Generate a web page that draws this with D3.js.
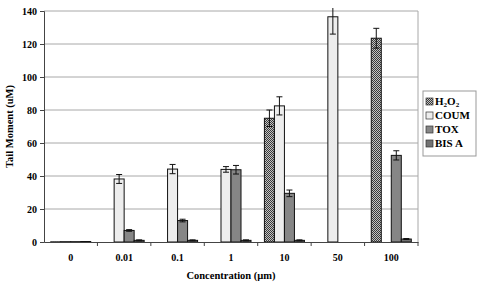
<!DOCTYPE html>
<html>
<head>
<meta charset="utf-8">
<script src="https://cdn.jsdelivr.net/npm/d3@7"></script>
<style>
  body { margin: 0; background: #fff; }
  svg text { font-family: "Liberation Serif", "Times New Roman", serif; font-weight: bold; fill: #000; }
</style>
</head>
<body>
<svg id="chart" width="477" height="286"></svg>
<script>
const categories = ["0", "0.01", "0.1", "1", "10", "50", "100"];
const seriesNames = ["H2O2", "COUM", "TOX", "BIS A"];
const h2o2 = [0.1, null, null, null, 75, null, 123.5];
const h2o2Err = [0, null, null, null, 5, null, 6];
const coum = [0.2, 38.2, 44.2, 44, 82.5, 136.5, null];
const coumErr = [0, 2.7, 2.8, 1.7, 5.5, 10.5, null];
const tox = [0.2, 7, 13, 43.8, 29.5, null, 52.5];
const toxErr = [0, 0.5, 0.8, 2.6, 2, null, 2.8];
const bisA = [0.3, 1, 1, 1, 1, null, 1.8];
const bisAErr = [0, 0.3, 0.3, 0.3, 0.3, null, 0.3];
const yTicks = [0, 20, 40, 60, 80, 100, 120, 140];

const values = [h2o2, coum, tox, bisA];
const errors = [h2o2Err, coumErr, toxErr, bisAErr];
const fills = ["url(#hatch)", "#ededed", "#868686", "#727272"];

const svg = d3.select("#chart");
const plotLeft = 44, plotRight = 418, plotTop = 11, plotBottom = 242;

const defs = svg.append("defs");
const pat = defs.append("pattern")
  .attr("id", "hatch")
  .attr("width", 2).attr("height", 2)
  .attr("patternUnits", "userSpaceOnUse");
pat.append("rect").attr("width", 2).attr("height", 2).attr("fill", "#c4c4c4");
pat.append("rect").attr("width", 1).attr("height", 1).attr("fill", "#3a3a3a");
pat.append("rect").attr("x", 1).attr("y", 1).attr("width", 1).attr("height", 1).attr("fill", "#3a3a3a");

defs.append("clipPath").attr("id", "clip")
  .append("rect").attr("x", plotLeft).attr("y", plotTop - 3)
  .attr("width", plotRight - plotLeft).attr("height", plotBottom - plotTop + 3);

const x = d3.scaleBand().domain(categories).range([plotLeft, plotRight]);
const x1 = d3.scaleBand().domain(seriesNames).range([0, x.bandwidth()]).paddingOuter(0.67);
const y = d3.scaleLinear().domain([0, 140]).range([plotBottom, plotTop]);

// grid lines
svg.append("g").selectAll("line")
  .data(yTicks.slice(1))
  .join("line")
  .attr("x1", plotLeft).attr("x2", plotRight)
  .attr("y1", d => y(d)).attr("y2", d => y(d))
  .attr("stroke", "#a8a8a8").attr("stroke-width", 1);

svg.append("line")
  .attr("x1", plotRight).attr("x2", plotRight)
  .attr("y1", plotTop).attr("y2", plotBottom)
  .attr("stroke", "#a8a8a8");

// bars
const rows = [];
seriesNames.forEach((s, i) => {
  categories.forEach((c, j) => {
    if (values[i][j] != null) rows.push({ s, i, c, v: values[i][j], e: errors[i][j] });
  });
});

svg.append("g").selectAll("rect")
  .data(rows)
  .join("rect")
  .attr("x", d => x(d.c) + x1(d.s))
  .attr("y", d => y(d.v))
  .attr("width", x1.bandwidth())
  .attr("height", d => y(0) - y(d.v))
  .attr("fill", d => fills[d.i])
  .attr("stroke", "#111")
  .attr("stroke-width", 1);

// error bars
const eg = svg.append("g").attr("clip-path", "url(#clip)")
  .attr("stroke", "#111").attr("stroke-width", 1);
rows.filter(d => d.e > 0).forEach(d => {
  const cx = x(d.c) + x1(d.s) + x1.bandwidth() / 2;
  const y0 = y(d.v - d.e), y1 = y(d.v + d.e);
  eg.append("line").attr("x1", cx).attr("x2", cx).attr("y1", y0).attr("y2", y1);
  eg.append("line").attr("x1", cx - 3).attr("x2", cx + 3).attr("y1", y0).attr("y2", y0);
  eg.append("line").attr("x1", cx - 3).attr("x2", cx + 3).attr("y1", y1).attr("y2", y1);
});

// y axis
const yAxis = svg.append("g")
  .attr("transform", `translate(${plotLeft},0)`)
  .call(d3.axisLeft(y).tickValues(yTicks).tickSize(4).tickPadding(3));
yAxis.select(".domain").attr("stroke", "#444");
yAxis.selectAll(".tick line").attr("stroke", "#444");
yAxis.selectAll("text").style("font-size", "10px");

// x axis
const xAxis = svg.append("g")
  .attr("transform", `translate(0,${plotBottom})`)
  .call(d3.axisBottom(x).tickSize(0).tickPadding(12));
xAxis.select(".domain").attr("stroke", "#444");
xAxis.selectAll("text").style("font-size", "10px");
svg.append("g").selectAll("line")
  .data(categories.slice(1).concat(["end"]))
  .join("line")
  .attr("x1", d => d === "end" ? plotRight : x(d))
  .attr("x2", d => d === "end" ? plotRight : x(d))
  .attr("y1", plotBottom).attr("y2", plotBottom + 4)
  .attr("stroke", "#444");

// axis titles
svg.append("text")
  .attr("x", (plotLeft + plotRight) / 2).attr("y", 279)
  .attr("text-anchor", "middle")
  .style("font-size", "10.5px")
  .text("Concentration (\u00b5m)");

svg.append("text")
  .attr("transform", `translate(13,${(plotTop + plotBottom) / 2}) rotate(-90)`)
  .attr("text-anchor", "middle")
  .style("font-size", "10.5px")
  .text("Tail Moment (uM)");

// legend
const lg = svg.append("g").attr("transform", "translate(423,91)");
lg.append("rect").attr("width", 53).attr("height", 65)
  .attr("fill", "#fff").attr("stroke", "#999");
seriesNames.forEach((s, i) => {
  const row = lg.append("g").attr("transform", `translate(3,${14 + i * 14})`);
  row.append("rect").attr("x", 0).attr("y", -7).attr("width", 7).attr("height", 7)
    .attr("fill", fills[i]).attr("stroke", "#333").attr("stroke-width", 0.7);
  const t = row.append("text").attr("x", 9).attr("y", 0).style("font-size", "11px");
  if (s === "H2O2") {
    t.append("tspan").text("H");
    t.append("tspan").text("2").attr("dy", 2).style("font-size", "7px");
    t.append("tspan").text("O").attr("dy", -2);
    t.append("tspan").text("2").attr("dy", 2).style("font-size", "7px");
  } else {
    t.text(s);
  }
});
</script>
</body>
</html>
